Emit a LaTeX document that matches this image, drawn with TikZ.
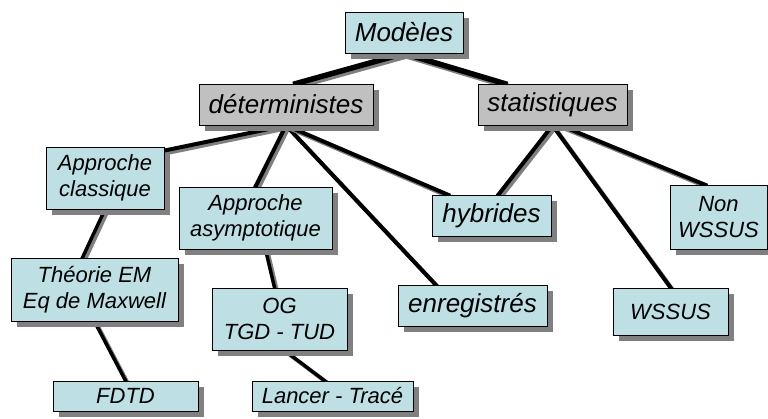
\documentclass[tikz,border=0pt]{standalone}
\usepackage{fontspec}
\setmainfont{Liberation Sans}
\usetikzlibrary{shadows,backgrounds}

\definecolor{boxcyan}{RGB}{190,224,228}
\definecolor{boxgray}{RGB}{192,192,192}
\definecolor{shadegray}{RGB}{128,128,128}

\tikzstyle{model} = [rectangle, draw=black, line width=0.9pt, fill=boxcyan, text centered, align=center, inner sep=0pt, font=\itshape\fontsize{22}{26}\selectfont, general shadow={fill=shadegray, shadow xshift=6pt, shadow yshift=-6pt}]
\tikzstyle{big} = [font=\itshape\fontsize{26}{30}\selectfont, minimum height=41pt]
\tikzstyle{link} = [shorten <=-3pt, shorten >=-3pt]

% connector with its shadow
\newcommand{\linkup}[3][4pt]{%
  \draw[link, line width=#1, shadegray, transform canvas={shift={(2.5pt,-2.5pt)}}] (#2) -- (#3);
  \draw[link, line width=#1] (#2) -- (#3);}

\begin{document}
\begin{tikzpicture}[x=1pt, y=1pt]
        \useasboundingbox (0,0) rectangle (768,418);
        % top levels
        \node[model, big, minimum width=118pt] (modeles) at (404,385.5) {Modèles};
        \node[model, big, fill=boxgray, minimum width=174pt] (determ) at (286,313.5) {déterministes};
        \node[model, big, fill=boxgray, minimum width=149pt] (statist) at (552.5,313.5) {statistiques};
        % deterministic branch
        \node[model, minimum width=118pt, minimum height=62pt] (appclass) at (105,240) {Approche\\classique};
        \node[model, minimum width=153pt, minimum height=62pt] (appasym) at (255.5,200) {Approche\\asymptotique};
        \node[model, minimum width=167pt, minimum height=63pt] (theorie) at (94.5,128.5) {Théorie EM\\Eq de Maxwell};
        \node[model, minimum width=135pt, minimum height=62pt] (optique) at (279.5,99) {OG\\TGD - TUD};
        \node[model, minimum width=145pt, minimum height=30pt] (fdtd) at (125.5,22) {FDTD};
        \node[model, minimum width=161pt, minimum height=30pt] (lancer) at (332.5,22) {Lancer - Tracé};
        \node[model, big, minimum width=119pt] (hybride) at (491.5,202.5) {hybrides};
        \node[model, big, minimum width=149pt] (enreg) at (472.5,112.5) {enregistrés};
        % statistical branch
        \node[model, minimum width=115pt, minimum height=47pt] (wssus) at (670.5,106.5) {WSSUS};
        \node[model, minimum width=97pt, minimum height=64pt] (nonwssus) at (718.5,201) {Non\\WSSUS};

        \begin{pgfonlayer}{background}
        \linkup[5.5pt]{modeles.south}{[xshift=10pt]determ.north}
        \linkup[5.5pt]{modeles.south}{[xshift=-48pt]statist.north}
        \linkup{determ.south}{[yshift=-4pt]appclass.north east}
        \linkup{determ.south}{appasym.north}
        \linkup{determ.south}{[xshift=-37pt]enreg.north}
        \linkup{determ.south}{[xshift=-44pt]hybride.north}
        \linkup{statist.south}{[xshift=7pt]hybride.north}
        \linkup{statist.south}{wssus.north}
        \linkup{[xshift=8pt]statist.south}{[xshift=-14pt]nonwssus.north}
        \linkup[3.5pt]{appclass.south}{[xshift=-12pt]theorie.north}
        \linkup[3.5pt]{theorie.south}{fdtd.north}
        \linkup[3.5pt]{[xshift=10pt]appasym.south}{[xshift=-5pt]optique.north}
        \linkup[3.5pt]{[xshift=5pt]optique.south}{[xshift=-8pt]lancer.north}
        \end{pgfonlayer}
    \end{tikzpicture}
\end{document}
